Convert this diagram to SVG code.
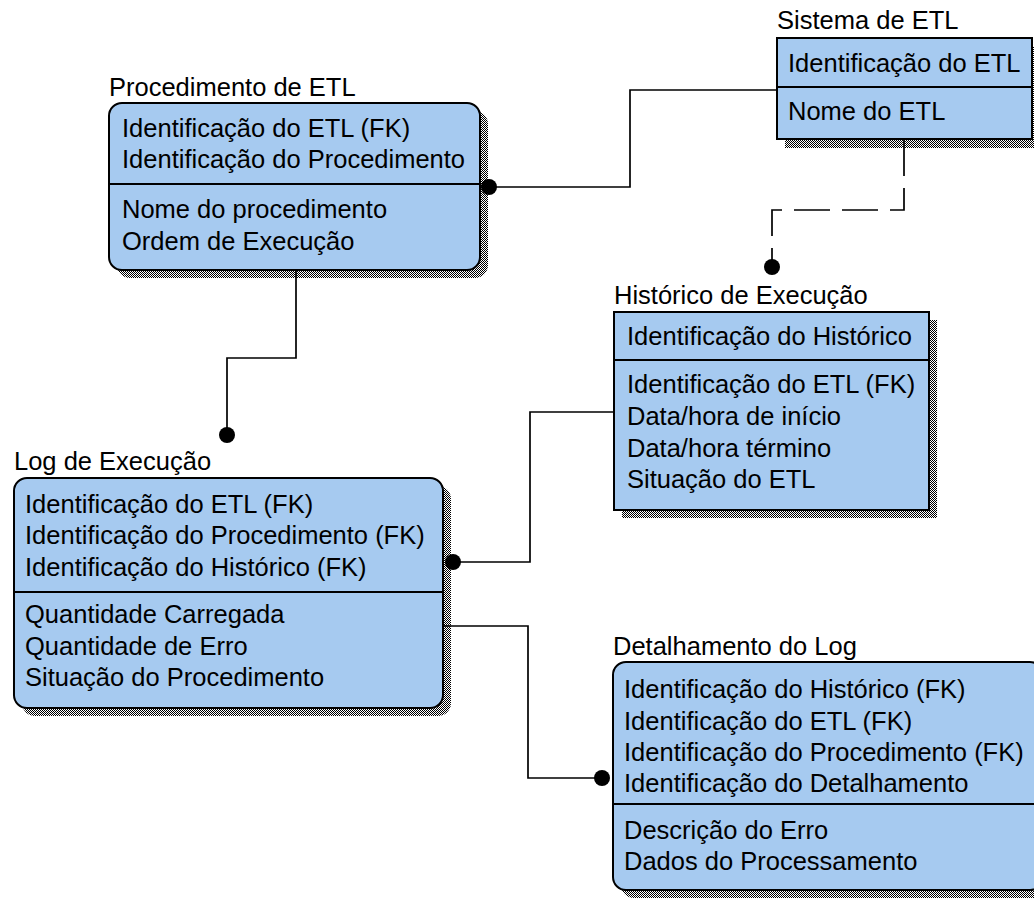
<svg xmlns="http://www.w3.org/2000/svg" width="1034" height="898" viewBox="0 0 1034 898">
  <defs>
    <pattern id="dither" width="2" height="2" patternUnits="userSpaceOnUse">
      <rect width="2" height="2" fill="#ffffff"/>
      <rect x="0" y="0" width="1" height="1" fill="#000000"/>
      <rect x="1" y="1" width="1" height="1" fill="#000000"/>
    </pattern>
    <style>
      .box { fill: #A6CAF0; stroke: #000; stroke-width: 2; }
      .shadow { fill: url(#dither); stroke: none; }
      .div { stroke: #000; stroke-width: 2; }
      .t { font-family: "Liberation Sans", Arial, sans-serif; font-size: 25.5px; fill: #000; }
      .conn { fill: none; stroke: #000; stroke-width: 1.7; }
      .dash { stroke-dasharray: 36 12; }
      .dot { fill: #000; }
    </style>
  </defs>

  <g id="procedimento">
    <text class="t" x="109" y="96">Procedimento de ETL</text>
    <rect class="shadow" x="117" y="111" width="371" height="167" rx="13"/>
    <rect class="box" x="109" y="103" width="371" height="167" rx="13"/>
    <line class="div" x1="109" y1="184" x2="480" y2="184"/>
    <text class="t" x="122" y="137">Identificação do ETL (FK)</text>
    <text class="t" x="122" y="168">Identificação do Procedimento</text>
    <text class="t" x="122" y="218">Nome do procedimento</text>
    <text class="t" x="122" y="250">Ordem de Execução</text>
  </g>

  <g id="sistema">
    <text class="t" x="777" y="29">Sistema de ETL</text>
    <rect class="shadow" x="785" y="47" width="256" height="101"/>
    <rect class="box" x="777" y="38" width="255" height="101"/>
    <line class="div" x1="777" y1="87" x2="1032" y2="87"/>
    <text class="t" x="788" y="72">Identificação do ETL</text>
    <text class="t" x="788" y="120">Nome do ETL</text>
  </g>

  <g id="historico">
    <text class="t" x="614" y="304">Histórico de Execução</text>
    <rect class="shadow" x="622" y="320" width="315" height="198"/>
    <rect class="box" x="614" y="312" width="315" height="198"/>
    <line class="div" x1="614" y1="360" x2="929" y2="360"/>
    <text class="t" x="627" y="345">Identificação do Histórico</text>
    <text class="t" x="627" y="393">Identificação do ETL (FK)</text>
    <text class="t" x="627" y="425">Data/hora de início</text>
    <text class="t" x="627" y="457">Data/hora término</text>
    <text class="t" x="627" y="488">Situação do ETL</text>
  </g>

  <g id="log">
    <text class="t" x="14" y="470">Log de Execução</text>
    <rect class="shadow" x="22" y="486" width="429" height="230" rx="13"/>
    <rect class="box" x="14" y="478" width="429" height="230" rx="13"/>
    <line class="div" x1="14" y1="592" x2="443" y2="592"/>
    <text class="t" x="25" y="513">Identificação do ETL (FK)</text>
    <text class="t" x="25" y="544">Identificação do Procedimento (FK)</text>
    <text class="t" x="25" y="576">Identificação do Histórico (FK)</text>
    <text class="t" x="25" y="623">Quantidade Carregada</text>
    <text class="t" x="25" y="655">Quantidade de Erro</text>
    <text class="t" x="25" y="686">Situação do Procedimento</text>
  </g>

  <g id="detalhamento">
    <text class="t" x="613" y="655">Detalhamento do Log</text>
    <rect class="shadow" x="621" y="670" width="430" height="228" rx="13"/>
    <rect class="box" x="613" y="662" width="430" height="228" rx="13"/>
    <line class="div" x1="613" y1="804" x2="1043" y2="804"/>
    <text class="t" x="624" y="698">Identificação do Histórico (FK)</text>
    <text class="t" x="624" y="730">Identificação do ETL (FK)</text>
    <text class="t" x="624" y="761">Identificação do Procedimento (FK)</text>
    <text class="t" x="624" y="792">Identificação do Detalhamento</text>
    <text class="t" x="624" y="839">Descrição do Erro</text>
    <text class="t" x="624" y="870">Dados do Processamento</text>
  </g>

  <g id="connectors">
    <path class="conn" d="M489,187 H630 V90 H777"/>
    <circle class="dot" cx="489" cy="187" r="8"/>
    <path class="conn dash" d="M904,140 V210 H772 V267"/>
    <circle class="dot" cx="772" cy="267" r="8"/>
    <path class="conn" d="M296,271 V358 H227 V435"/>
    <circle class="dot" cx="227" cy="435" r="8"/>
    <path class="conn" d="M613,412 H530 V562 H453"/>
    <circle class="dot" cx="453" cy="562" r="8"/>
    <path class="conn" d="M444,626 H528 V778 H602"/>
    <circle class="dot" cx="602" cy="778" r="8"/>
  </g>
</svg>
